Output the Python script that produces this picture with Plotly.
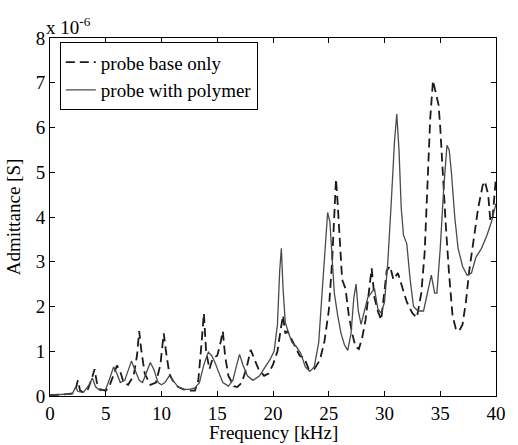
import plotly.graph_objects as go

# Frequency [kHz] and admittance (in units of 1e-6 S)
freq_base = [0.0, 0.5, 1.0, 1.5, 2.0, 2.3, 2.5, 2.7, 3.0, 3.4, 3.7, 4.0, 4.2, 4.5, 5.0, 5.3, 5.6, 6.0, 6.3, 6.6,
             7.0, 7.5, 7.8, 8.0, 8.2, 8.5, 9.0, 9.5, 9.9, 10.2, 10.4, 10.7, 11.0, 11.5, 12.0, 12.5, 13.0, 13.3, 13.6, 13.8,
             14.0, 14.3, 14.6, 15.0, 15.3, 15.5, 15.7, 16.0, 16.5, 16.8, 17.2, 17.6, 18.0, 18.3, 18.7, 19.2, 19.6, 20.0,
             20.4, 20.7, 20.9, 21.1, 21.3, 21.6, 22.0, 22.4, 22.8, 23.2, 23.7, 24.2, 24.6, 25.0, 25.3, 25.5, 25.65, 25.8,
             26.0, 26.2, 26.5, 26.8, 27.1, 27.4, 27.7, 28.0, 28.3, 28.6, 28.85, 29.1, 29.4, 29.7, 29.9, 30.2, 30.5, 30.8,
             31.2, 31.5, 32.0, 32.5, 32.9, 33.3, 33.6, 33.9, 34.1, 34.35, 34.6, 34.85, 35.0, 35.2, 35.5, 35.8, 36.1, 36.4,
             36.7, 37.0, 37.3, 37.6, 38.0, 38.4, 38.8, 39.0, 39.3, 39.5, 39.7, 40.0]
adm_base = [0.02, 0.02, 0.03, 0.04, 0.06, 0.15, 0.35, 0.12, 0.08, 0.15, 0.35, 0.6, 0.3, 0.15, 0.12, 0.2, 0.4, 0.68, 0.55, 0.3,
            0.25, 0.45, 0.9, 1.45, 1.0, 0.5, 0.25, 0.3, 0.7, 1.4, 1.0, 0.5, 0.35, 0.2, 0.15, 0.12, 0.12, 0.35, 1.2, 1.85,
            1.0, 0.6, 0.85, 0.9, 1.2, 1.45, 0.9, 0.45, 0.22, 0.2, 0.3, 0.6, 1.03, 0.85, 0.6, 0.45, 0.5, 0.7,
            1.0, 1.5, 1.8, 1.4, 1.45, 1.3, 1.1, 0.9, 0.85, 0.6, 0.6, 0.8, 1.2, 1.9, 3.0, 4.3, 4.85, 4.3,
            3.3, 2.6, 2.4, 1.8, 1.4, 1.1, 1.05, 1.3, 1.7, 2.4, 2.85, 2.2, 1.9, 1.7, 2.2, 2.8, 2.9, 2.6,
            2.75, 2.5, 2.1, 1.85, 1.75, 2.3, 3.2, 5.0, 6.2, 7.05, 6.75, 6.5, 6.0, 5.0, 3.8, 2.7, 1.8, 1.5,
            1.45, 1.6, 2.1, 2.8, 3.5, 4.2, 4.7, 4.8, 4.5, 3.9, 4.0, 4.9]

freq_poly = [0.0, 1.0, 2.0, 2.3, 2.5, 3.0, 3.5, 3.8, 4.1, 4.5, 5.0, 5.3, 5.7, 6.0, 6.3, 6.7, 7.0, 7.3, 7.6, 8.0,
             8.3, 8.6, 9.0, 9.3, 9.7, 10.0, 10.3, 10.7, 11.0, 11.5, 12.0, 12.5, 13.0, 13.4, 13.8, 14.2, 14.5, 14.8, 15.1,
             15.5, 16.0, 16.4, 16.7, 17.0, 17.3, 17.7, 18.2, 18.8, 19.3, 19.7, 20.1, 20.4, 20.6, 20.75, 20.9, 21.1, 21.4,
             21.7, 22.1, 22.5, 22.9, 23.3, 23.7, 24.1, 24.4, 24.7, 24.9, 25.1, 25.3, 25.5, 25.8, 26.1, 26.4, 26.7, 27.0,
             27.25, 27.45, 27.65, 27.9, 28.2, 28.5, 28.8, 29.1, 29.4, 29.7, 30.0, 30.3, 30.6, 30.9, 31.1, 31.3, 31.5, 31.7,
             32.0, 32.3, 32.6, 33.0, 33.5, 33.9, 34.2, 34.5, 34.7, 35.0, 35.3, 35.6, 35.8, 36.0, 36.3, 36.6, 37.0, 37.4,
             37.8, 38.2, 38.7, 39.2, 39.6, 40.0]
adm_poly = [0.02, 0.03, 0.05, 0.2, 0.1, 0.08, 0.25, 0.4, 0.2, 0.12, 0.15, 0.35, 0.65, 0.5, 0.3, 0.35, 0.55, 0.78, 0.6, 0.35,
            0.3, 0.5, 0.75, 0.6, 0.3, 0.25, 0.3, 0.45, 0.35, 0.2, 0.15, 0.15, 0.18, 0.3, 0.7, 0.98, 0.9, 0.75, 0.55,
            0.3, 0.22, 0.35, 0.65, 0.93, 0.7, 0.45, 0.35, 0.45, 0.65, 0.8, 1.0, 1.6, 2.8, 3.3, 2.4, 1.65, 1.4,
            1.2, 1.1, 0.95, 0.65, 0.55, 0.65, 1.2, 2.3, 3.5, 4.1, 3.9, 3.0, 2.3, 1.8, 1.4, 1.15, 1.02, 1.4,
            2.2, 2.5, 1.9, 1.6, 1.9, 2.2, 2.3, 2.4, 1.95, 1.85, 2.1, 3.0, 4.3, 5.7, 6.3, 5.5, 4.2, 3.6,
            3.4, 2.6, 2.0, 1.9, 1.9, 2.4, 2.7, 2.3, 2.3, 3.3, 4.6, 5.6, 5.5, 5.0, 4.0, 3.3, 2.9, 2.7,
            2.75, 3.1, 3.3, 3.6, 3.9, 4.3]

x_ticks = [0, 5, 10, 15, 20, 25, 30, 35, 40]
y_ticks = [0, 1, 2, 3, 4, 5, 6, 7, 8]

FONT = "Liberation Serif, Times New Roman, serif"
FS = 19

fig = go.Figure()
fig.add_trace(go.Scatter(x=freq_base, y=adm_base, mode="lines", name="probe base only",
                         line=dict(color="#1a1a1a", width=1.8, dash="9px,5px")))
fig.add_trace(go.Scatter(x=freq_poly, y=adm_poly, mode="lines", name="probe with polymer",
                         line=dict(color="#4a4a4a", width=1.3)))

axis_common = dict(showline=True, linecolor="black", linewidth=1, mirror="ticks",
                   ticks="inside", ticklen=5, tickcolor="black", showgrid=False, zeroline=False,
                   tickfont=dict(family=FONT, size=FS, color="black"))

fig.update_xaxes(range=[0, 40], tickvals=x_ticks, ticktext=[str(v) for v in x_ticks], **axis_common)
fig.update_yaxes(range=[0, 8], tickvals=y_ticks, ticktext=[str(v) for v in y_ticks],
                 title=dict(text="Admittance [S]", font=dict(family=FONT, size=FS, color="black"), standoff=10),
                 **axis_common)

# x-axis title placed as annotation so it sits fully inside the picture
fig.add_annotation(xref="paper", yref="paper", x=0.5, y=-0.103, xanchor="center", yanchor="middle",
                   text="Frequency [kHz]", showarrow=False,
                   font=dict(family=FONT, size=FS, color="black"))

fig.add_annotation(xref="paper", yref="paper", x=0.0, y=1.0, xanchor="left", yanchor="bottom",
                   text="x 10<sup>-6</sup>", showarrow=False, yshift=-2, xshift=-6,
                   font=dict(family=FONT, size=FS, color="black"))

fig.update_layout(
    width=518, height=445,
    margin=dict(l=50, r=13, t=38, b=49),
    paper_bgcolor="white", plot_bgcolor="white",
    font=dict(family=FONT, size=FS, color="black"),
    legend=dict(x=0.022, y=0.988, xanchor="left", yanchor="top", bgcolor="white",
                bordercolor="black", borderwidth=1, font=dict(family=FONT, size=FS, color="black"),
                tracegroupgap=0, itemwidth=30),
    showlegend=True,
)

# remove the default page margin so the figure starts at the window's top-left corner
fig.write_html("out.html", config={"displayModeBar": False},
               post_script="document.body.style.margin='0';")
